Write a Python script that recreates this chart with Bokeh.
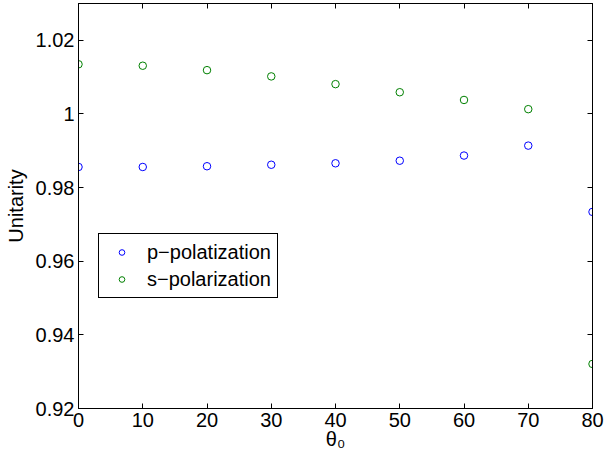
from bokeh.plotting import figure
from bokeh.models import Range1d, FixedTicker, LinearAxis, Legend, LegendItem
from bokeh.embed import file_html
from bokeh.resources import INLINE

theta = [0, 10, 20, 30, 40, 50, 60, 70, 80]
p_pol = [0.9856, 0.9856, 0.9858, 0.9862, 0.9866, 0.9873, 0.9887, 0.9914, 0.9734]
s_pol = [1.0135, 1.0131, 1.0119, 1.0102, 1.0081, 1.0059, 1.0038, 1.0013, 0.9321]
x_ticks = [0, 10, 20, 30, 40, 50, 60, 70, 80]
y_ticks = [0.92, 0.94, 0.96, 0.98, 1.0, 1.02]
y_labels = ["0.92", "0.94", "0.96", "0.98", "1", "1.02"]

FONT = "Liberation Sans"
FS = "20px"

p = figure(width=604, height=458, output_backend="svg", toolbar_location=None,
           x_range=Range1d(0, 80), y_range=Range1d(0.92, 1.03),
           min_border_left=78, min_border_right=12, min_border_top=3, min_border_bottom=50)
p.xgrid.visible = False
p.ygrid.visible = False
p.outline_line_color = "black"
p.outline_line_width = 1
p.background_fill_color = "white"
p.border_fill_color = "white"

r1 = p.scatter(theta, p_pol, marker="circle", size=7.5, fill_color=None, line_color="#0000ff", line_width=1)
r2 = p.scatter(theta, s_pol, marker="circle", size=7.5, fill_color=None, line_color="#008000", line_width=1)

def style(ax, ticks, labels=True):
    ax.ticker = FixedTicker(ticks=ticks)
    ax.major_tick_in = 5
    ax.major_tick_out = 0
    ax.minor_tick_in = 0
    ax.minor_tick_out = 0
    ax.axis_line_color = "black"
    ax.major_tick_line_color = "black"
    ax.major_label_text_font = FONT
    ax.major_label_text_font_size = FS
    ax.major_label_text_color = "black"
    ax.major_label_standoff = 4 if labels else 0
    ax.axis_label_text_font = FONT
    ax.axis_label_text_font_size = FS
    ax.axis_label_text_font_style = "normal"
    ax.axis_label_text_color = "black"
    if not labels:
        ax.major_label_text_alpha = 0
        ax.major_label_overrides = {t: "" for t in ticks}

style(p.xaxis[0], x_ticks)
style(p.yaxis[0], y_ticks)
p.yaxis[0].major_label_overrides = {t: l for t, l in zip(y_ticks, y_labels)}
p.xaxis[0].axis_label = "θ₀"
p.xaxis[0].axis_label_standoff = -2
p.yaxis[0].axis_label = "Unitarity"
p.yaxis[0].axis_label_standoff = 6

top = LinearAxis()
style(top, x_ticks, labels=False)
p.add_layout(top, "above")
right = LinearAxis()
style(right, y_ticks, labels=False)
p.add_layout(right, "right")

legend = Legend(items=[LegendItem(label="p−polatization", renderers=[r1]),
                       LegendItem(label="s−polarization", renderers=[r2])],
                location=(20, 110))
legend.border_line_color = "black"
legend.border_line_width = 1
legend.border_line_alpha = 1
legend.background_fill_color = "white"
legend.background_fill_alpha = 1
legend.label_text_font = FONT
legend.label_text_font_size = FS
legend.label_text_color = "black"
legend.padding = 6
legend.spacing = 3
legend.glyph_width = 33
legend.glyph_height = 14
legend.label_height = 24
legend.label_standoff = 9
legend.margin = 0
p.add_layout(legend, "center")

open("out.html", "w").write(file_html(p, INLINE))
